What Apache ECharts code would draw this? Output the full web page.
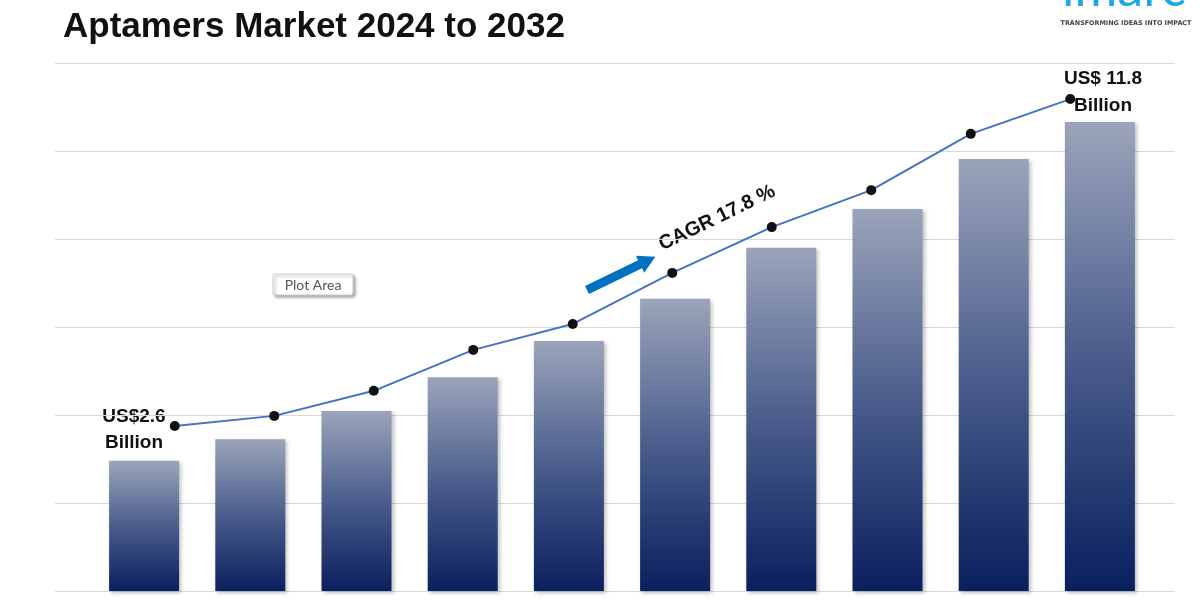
<!DOCTYPE html>
<html>
<head>
<meta charset="utf-8">
<script src="https://cdn.jsdelivr.net/npm/echarts@6/dist/echarts.min.js"></script>
<style>html,body{margin:0;padding:0;background:#fff}#c{width:1200px;height:600px}</style>
</head>
<body>
<div id="c"></div>
<script>
// ---- data ----
const categories = ['2023','2024','2025','2026','2027','2028','2029','2030','2031','2032'];
const barValues  = [2.96, 3.45, 4.09, 4.86, 5.68, 6.64, 7.80, 8.68, 9.82, 10.66];
const lineValues = [3.75, 3.98, 4.55, 5.48, 6.07, 7.23, 8.27, 9.11, 10.39, 11.18];
const titleText = 'Aptamers Market 2024 to 2032';
const startLabel = 'US$2.6\nBillion';
const endLabel = 'US$ 11.8\nBillion';
const cagrLabel = 'CAGR 17.8 %';
const yMin = 0, yMax = 12, yInterval = 2;

const chart = echarts.init(document.getElementById('c'), null, {renderer: 'canvas'});

const hiddenX = (gi) => ({type: 'category', gridIndex: gi, data: categories, show: false, boundaryGap: true});
const valY = (gi, split) => ({
  type: 'value', gridIndex: gi, min: yMin, max: yMax, interval: yInterval,
  axisLabel: {show: false}, axisLine: {show: false}, axisTick: {show: false},
  splitLine: {show: split, lineStyle: {color: '#d9d9d9', width: 1}}
});

const arrowAngle = Math.atan2(33, 68);

chart.setOption({
  backgroundColor: '#ffffff',
  animation: false,
  title: {
    text: titleText, left: 58, top: 5,
    textStyle: {fontFamily: 'Liberation Sans, Arial, sans-serif', fontWeight: 'bold', fontSize: 35, color: '#111'}
  },
  grid: [
    {left: 55, right: 25, top: 63, bottom: 9},
    {left: 91, right: 47, top: 63, bottom: 9},
    {left: 125, right: 80, top: 63, bottom: 9}
  ],
  xAxis: [hiddenX(0), hiddenX(1), hiddenX(2)],
  yAxis: [valY(0, true), valY(1, false), valY(2, false)],
  series: [
    {
      type: 'bar', xAxisIndex: 1, yAxisIndex: 1, data: barValues, barWidth: 70,
      itemStyle: {
        color: new echarts.graphic.LinearGradient(0, 0, 0, 1, [
          {offset: 0, color: '#9ba4ba'},
          {offset: 0.5, color: '#4a5d8c'},
          {offset: 1, color: '#0a1f5e'}
        ]),
        shadowColor: 'rgba(0,0,0,0.25)', shadowBlur: 4, shadowOffsetX: 2, shadowOffsetY: 2
      }
    },
    {
      type: 'line', xAxisIndex: 2, yAxisIndex: 2, data: lineValues,
      symbol: 'circle', symbolSize: 10,
      lineStyle: {color: '#4472c4', width: 2},
      itemStyle: {color: '#111111'}
    }
  ],
  graphic: [
    {type: 'text', x: 1124, y: 15, style: {text: 'imarc', font: '52px Lato, sans-serif', fill: '#1ea7e8', align: 'center', verticalAlign: 'bottom'}},
    {type: 'text', x: 1126, y: 23.5, style: {text: 'TRANSFORMING IDEAS INTO IMPACT', font: 'bold 6.4px "DejaVu Sans", sans-serif', fill: '#444', align: 'center', verticalAlign: 'middle'}},
    {type: 'text', x: 134, y: 404, style: {text: startLabel, font: 'bold 19px "Liberation Sans", Arial, sans-serif', fill: '#111', align: 'center', verticalAlign: 'top', lineHeight: 26}},
    {type: 'text', x: 1103, y: 65, style: {text: endLabel, font: 'bold 19px "Liberation Sans", Arial, sans-serif', fill: '#111', align: 'center', verticalAlign: 'top', lineHeight: 27}},
    {type: 'text', x: 717, y: 218, rotation: arrowAngle, style: {text: cagrLabel, font: 'bold 20px "Liberation Sans", Arial, sans-serif', fill: '#111', align: 'center', verticalAlign: 'middle'}},
    {type: 'polygon', x: 587, y: 290, rotation: arrowAngle,
      shape: {points: [[0,-4.5],[59,-4.5],[59,-9.5],[76,0],[59,9.5],[59,4.5],[0,4.5]]},
      style: {fill: '#0070c0'}},
    {type: 'rect', x: 273, y: 274, shape: {width: 80, height: 21, r: 2},
      style: {fill: '#ffffff', stroke: '#cfcfcf', lineWidth: 1, shadowColor: 'rgba(0,0,0,0.35)', shadowBlur: 3, shadowOffsetX: 2, shadowOffsetY: 2}},
    {type: 'text', x: 313, y: 285, style: {text: 'Plot Area', font: '14px Lato, sans-serif', fill: '#555', align: 'center', verticalAlign: 'middle'}}
  ]
});
</script>
</body>
</html>
